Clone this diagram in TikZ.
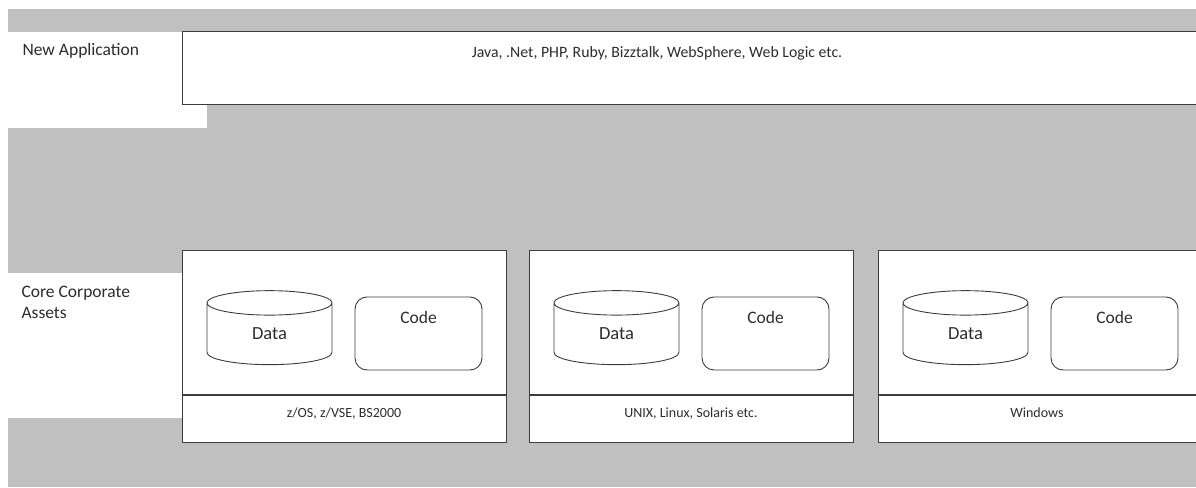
\documentclass[tikz,border=0pt]{standalone}
\usepackage{fontspec}
\setmainfont{Carlito}
\usepackage{tikz}
\usetikzlibrary{shapes.geometric}
\usetikzlibrary{positioning}

\definecolor{backgray}{RGB}{192,192,192}
\definecolor{linegray}{RGB}{60,60,60}
\definecolor{textgray}{RGB}{45,45,45}

\begin{document}
\begin{tikzpicture}[x=1pt, y=1pt,
        every node/.style={text=textgray},
        panel/.style={rectangle, draw=linegray, line width=1pt, fill=white, inner sep=0pt},
        tag/.style={rectangle, fill=white, inner sep=0pt},
        db/.style={cylinder, shape border rotate=90, draw=linegray, line width=0.9pt, fill=white,
                   aspect=0.7, minimum width=125pt, minimum height=74pt, inner sep=0pt,
                   font=\fontsize{18.5}{22}\selectfont},
        codebox/.style={rectangle, rounded corners=12pt, draw=linegray, line width=0.9pt, fill=white,
                   minimum width=127pt, minimum height=73pt, inner sep=0pt,
                   text height=12pt, text depth=32pt, font=\fontsize{17.5}{21}\selectfont},
        os/.style={panel, minimum height=47pt, text height=9pt, text depth=13pt,
                   font=\fontsize{14}{17}\selectfont}]
        % page and gray band
        \useasboundingbox (0,0) rectangle (1196,487);
        \fill[white] (0,0) rectangle (1196,487);
        \fill[backgray] (8,0) rectangle (1196,478);

        % Layer 1
        \node[tag, minimum width=199pt, minimum height=96pt] (newtag) at (107.5,407) {};
        \node[anchor=west, font=\fontsize{17.5}{21}\selectfont] (newlabel) at (19,436) {New Application};
        \node[panel, minimum width=1016pt, minimum height=73pt] (newapp) at (690,418.5) {};
        \node[font=\fontsize{15.8}{19}\selectfont] (newtext) at (657,434)
                {Java, .Net, PHP, Ruby, Bizztalk, WebSphere, Web Logic etc.};

        % Layer 2
        \node[tag, minimum width=174pt, minimum height=145pt] (coretag) at (95,141.5) {};
        \node[anchor=north west, align=left, font=\fontsize{17.5}{21}\selectfont] (corelabel)
                at (18,204) {Core Corporate\\Assets};

        \node[panel, minimum width=324pt, minimum height=144pt] (host1) at (344,164) {};
        \node[os, minimum width=324pt, below=0pt of host1] (os1) {z/OS, z/VSE, BS2000};
        \node[db] (data1) at (269.5,153) {Data};
        \node[codebox] (code1) at (418.5,153.5) {Code};

        \node[panel, minimum width=324pt, minimum height=144pt] (host2) at (691,164) {};
        \node[os, minimum width=324pt, below=0pt of host2] (os2) {UNIX, Linux, Solaris etc.};
        \node[db] (data2) at (616.5,153) {Data};
        \node[codebox] (code2) at (765.5,153.5) {Code};

        \node[panel, minimum width=318pt, minimum height=144pt] (host3) at (1037,164) {};
        \node[os, minimum width=318pt, below=0pt of host3] (os3) {Windows};
        \node[db] (data3) at (965.5,153) {Data};
        \node[codebox] (code3) at (1114.5,153.5) {Code};

\end{tikzpicture}
\end{document}
